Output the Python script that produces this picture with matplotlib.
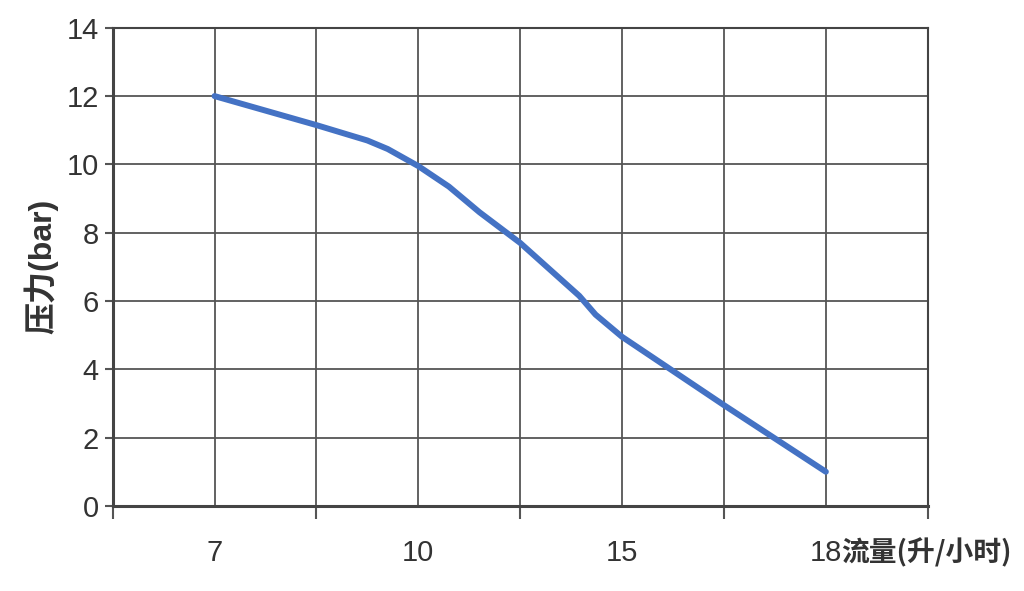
import matplotlib.pyplot as plt
from matplotlib.ticker import FixedLocator, NullFormatter

# category labels on the flow axis (equally spaced)
flow_labels = ['7', '10', '15', '18']
flow_unit = '流量(升/小时)'
y_label = '压力(bar)'

# curve: position in half-category steps, pressure in bar
curve_pos = [1.0, 2.0, 2.5, 2.7, 3.0, 3.3, 3.6, 4.0, 4.58, 4.74, 5.0, 6.0, 7.0]
curve_bar = [12.0, 11.15, 10.7, 10.45, 9.95, 9.35, 8.6, 7.7, 6.15, 5.6, 4.95, 2.95, 1.0]

y_ticks = [0, 2, 4, 6, 8, 10, 12, 14]

plt.rcParams['font.family'] = ['Liberation Sans', 'Noto Sans CJK SC', 'DejaVu Sans']


def main():
    fig = plt.figure(figsize=(10.24, 5.91), dpi=100)
    ax = fig.add_axes([0.110, 0.144, 0.796, 0.809])

    ax.plot(curve_pos, curve_bar, color='#4472C4', lw=4.3, solid_capstyle='round',
            solid_joinstyle='round', zorder=3)

    ax.set_xlim(0, 8)
    ax.set_ylim(0, 14)

    # boundaries get the ticks, category centres get the labels
    ax.xaxis.set_major_locator(FixedLocator([0, 2, 4, 6, 8]))
    ax.xaxis.set_major_formatter(NullFormatter())
    ax.xaxis.set_minor_locator(FixedLocator([1, 3, 5, 7]))
    ax.set_xticklabels(flow_labels, minor=True)
    ax.tick_params(axis='x', which='major', direction='out', length=9, width=1.5, color='#555555')
    ax.tick_params(axis='x', which='minor', length=0, pad=24, labelsize=21, labelcolor='#333333')

    ax.set_yticks(y_ticks)
    ax.tick_params(axis='y', direction='out', length=6, width=1.5, color='#555555',
                   labelsize=21, labelcolor='#333333', pad=4)

    ax.grid(True, which='both', axis='x', color='#555555', lw=1.3)
    ax.grid(True, which='major', axis='y', color='#555555', lw=1.3)
    ax.set_axisbelow(True)
    for s in ax.spines.values():
        s.set_color('#444444')
        s.set_linewidth(1.5)
    ax.spines['left'].set_linewidth(2.2)
    ax.spines['bottom'].set_linewidth(2.2)

    ax.set_ylabel(y_label, fontsize=23, fontweight='bold', color='#333333', labelpad=6)

    fig.text(841 / 1024, 1 - 553 / 591, flow_unit, fontsize=20, fontweight='bold', color='#333333',
             ha='left', va='center', family=['Noto Sans CJK SC', 'DejaVu Sans'])

    fig.savefig('out.png', dpi=100)


if __name__ == "__main__":
    main()
